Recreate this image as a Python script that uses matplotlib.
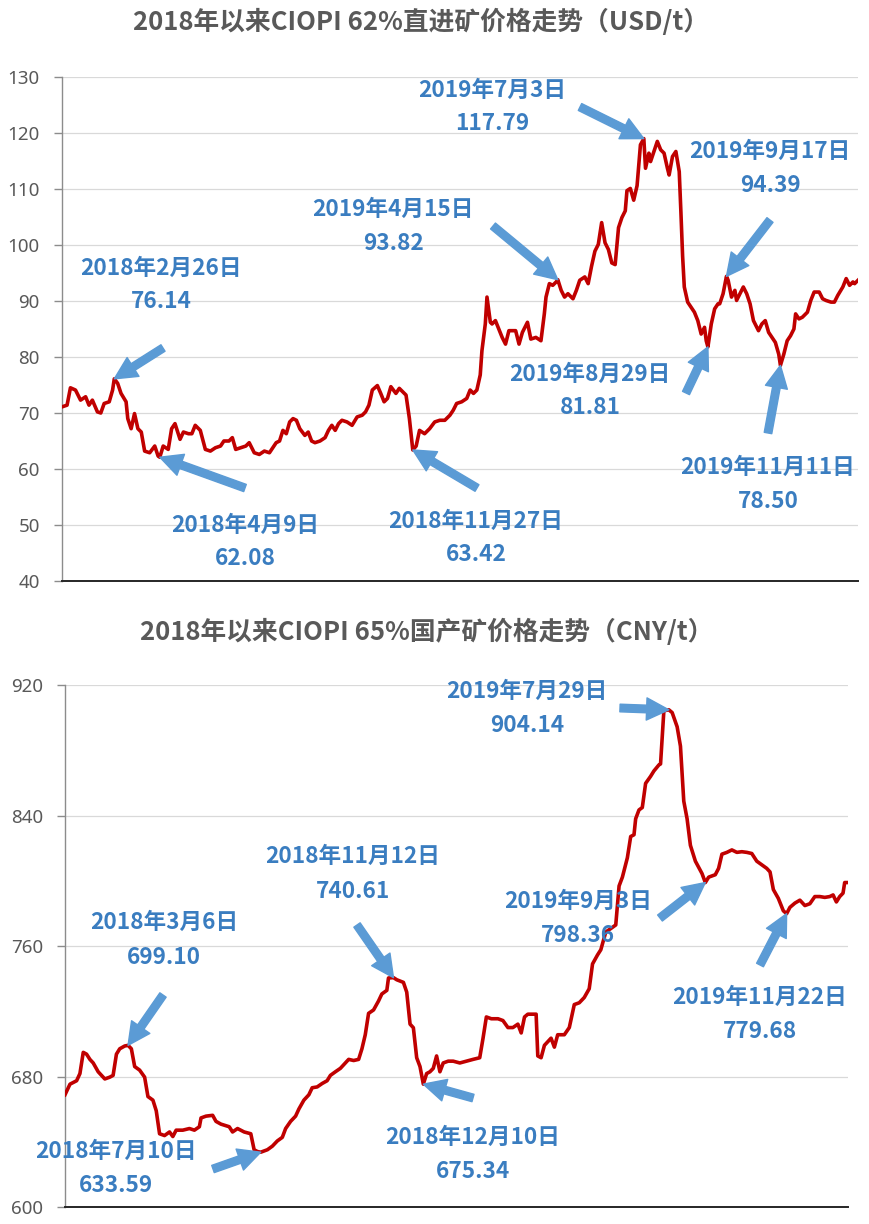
import matplotlib
matplotlib.use("Agg")
import matplotlib.pyplot as plt
import numpy as np

plt.rcParams['font.family'] = ['Noto Sans CJK SC', 'DejaVu Sans']

# ---------------- data: top panel (CIOPI 62%, USD/t) ----------------
top_day = [0,3,5,8,11,14,16,18,21,23,25,28,30,31,33,35,38,39,41,43,45,47,49,52,55,57,58,60,63,65,
           67,70,72,75,77,79,82,85,88,91,94,96,99,101,103,106,109,111,114,117,120,123,125,127,129,131,133,135,137,139,
           141,144,146,148,150,153,156,158,160,162,164,166,169,172,175,178,180,182,184,187,189,191,193,195,198,200,202,204,206,208,
           210,212,215,218,221,224,227,230,
           232,234,237,240,242,244,246,248,249,251,252,254,255,257,259,261,263,265,267,269,
           271,273,275,276,278,281,284,286,287,289,291,293,294,296,298,300,303,305,307,310,
           312,314,316,318,320,322,324,326,328,330,332,334,335,337,339,341,343,345,346,348,
           349,351,353,355,357,359,360,362,364,366,367,368,369,371,373,375,377,379,381,382,
           383,385,387,389,390,392,394,395,397,399,400,402,404,406,408,410,413,415,417,419,
           421,423,425,426,428,430,432,434,435,437,439,442,444,446,449,451,453,456,458,460,
           463,465,467,469,470,472]
top_val = [71.1,71.4,74.5,74.1,72.3,72.9,71.4,72.3,70.2,70.0,71.7,72.0,74.1,76.1,75.3,73.5,72.0,69.0,67.2,69.9,
           67.2,66.6,63.2,62.9,64.1,62.3,62.1,64.1,63.5,67.2,68.1,65.3,66.6,66.3,66.3,67.8,66.9,63.5,63.2,63.8,
           64.1,65.0,65.0,65.6,63.5,63.8,64.1,64.7,62.9,62.6,63.2,62.9,63.8,64.7,65.0,66.9,66.3,68.4,69.0,68.7,
           67.2,66.0,66.6,65.0,64.7,65.0,65.6,66.9,67.8,66.9,68.1,68.7,68.4,67.8,69.3,69.6,70.2,71.4,74.1,74.9,
           73.5,72.0,72.6,74.7,73.5,74.4,73.8,73.2,69.0,63.4,64.1,66.9,66.3,67.2,68.4,68.7,68.7,69.6,
           70.5,71.7,72.0,72.6,74.1,73.5,74.1,76.8,81.1,85.9,90.7,86.2,85.9,86.5,85.0,83.5,82.3,84.7,84.7,84.7,
           82.3,84.4,85.6,86.2,83.2,83.5,82.9,87.7,90.7,93.1,92.8,93.4,93.8,91.9,90.7,91.3,90.4,91.9,93.7,94.3,
           93.1,96.2,98.9,100.1,104.0,100.4,99.2,96.8,96.5,103.1,104.9,106.1,109.7,110.1,108.0,110.6,117.9,119.0,113.7,116.4,
           114.9,116.7,118.5,117.0,116.4,113.7,112.5,115.8,116.7,113.1,105.8,98.0,92.5,89.8,88.9,88.0,86.5,84.1,85.3,82.9,
           81.8,85.9,88.6,89.5,89.5,91.3,94.4,93.7,90.7,91.9,90.1,91.3,92.5,91.3,89.5,86.5,84.7,85.9,86.5,84.4,
           83.5,82.6,80.5,78.5,80.5,82.9,83.8,85.0,87.7,86.8,87.1,88.0,90.1,91.6,91.6,90.4,90.1,89.8,89.8,91.0,
           92.5,94.0,92.8,93.4,93.1,93.7]

# ---------------- data: bottom panel (CIOPI 65% domestic, CNY/t) ----------------
bot_day = [0,3,7,9,11,13,15,17,20,22,24,27,29,31,33,36,38,40,42,45,48,50,53,55,57,60,63,65,67,71,
           75,78,81,82,85,89,91,94,99,101,104,108,112,114,116,118,122,125,128,131,133,136,139,141,144,147,149,152,155,158,
           160,163,166,168,171,174,177,179,181,183,186,189,191,194,195,198,200,204,206,208,210,212,214,216,218,220,222,224,226,228,
           231,
           234,238,242,246,250,252,254,257,261,264,267,270,273,275,277,279,284,285,287,289,
           293,295,297,301,304,307,310,313,316,318,321,323,326,329,332,334,336,339,341,343,
           344,346,348,350,353,355,358,359,361,364,366,369,371,373,375,377,380,384,386,388,
           392,394,396,399,402,405,408,411,414,417,420,423,425,427,430,433,435,437,440,443,
           446,449,452,455,458,461,463,465,467,469,470,472]
bot_val = [668.8,675.3,677.4,681.8,694.8,693.7,690.5,688.3,682.9,680.7,678.5,679.6,680.7,693.7,697.0,698.7,699.1,697.0,686.1,683.9,
           679.6,667.7,665.5,659.0,644.9,643.8,646.0,643.2,647.1,647.1,648.1,647.1,649.2,654.6,655.7,656.2,652.5,650.8,649.2,646.0,
           648.1,646.0,644.9,635.1,634.0,633.6,635.1,637.3,640.5,642.7,648.1,652.5,655.7,660.1,665.5,668.8,673.1,673.6,675.7,677.4,
           680.7,682.9,685.0,687.2,690.5,689.8,690.5,697.0,705.6,718.7,720.8,726.3,730.6,732.8,740.4,740.6,739.3,737.7,731.7,712.1,
           709.9,691.5,686.1,675.3,681.8,682.9,685.0,692.6,682.9,688.3,689.4,
           689.4,688.3,689.4,690.5,691.5,703.5,716.5,715.4,715.4,714.3,710.0,710.0,712.1,706.7,716.5,718.2,718.2,692.6,691.5,699.1,
           703.5,698.0,705.6,705.6,710.0,724.1,725.2,728.4,733.8,749.0,754.5,757.7,768.6,770.7,772.9,796.8,802.2,814.1,827.1,828.2,
           838.0,843.4,844.9,859.7,864.0,867.3,871.0,871.6,904.2,904.8,903.1,894.4,882.5,848.8,838.0,821.7,812.0,804.4,798.9,802.2,
           803.7,807.6,816.3,817.4,818.9,817.4,817.8,817.4,816.7,812.0,809.8,807.6,805.4,794.6,789.2,781.6,779.8,783.7,786.3,788.1,
           784.8,785.9,790.3,790.3,789.8,790.3,791.3,787.0,790.3,792.4,798.9,798.9]

top_title = "2018年以来CIOPI 62%直进矿价格走势（USD/t）"
bot_title = "2018年以来CIOPI 65%国产矿价格走势（CNY/t）"
top_yticks = [40, 50, 60, 70, 80, 90, 100, 110, 120, 130]
bot_yticks = [600, 680, 760, 840, 920]

# annotations: (date label, value label, day index of marked point)
top_notes = [("2018年2月26日", "76.14", 31), ("2018年4月9日", "62.08", 58),
             ("2018年11月27日", "63.42", 208), ("2019年4月15日", "93.82", 294),
             ("2019年7月3日", "117.79", 345), ("2019年8月29日", "81.81", 383),
             ("2019年9月17日", "94.39", 394), ("2019年11月11日", "78.50", 426)]
bot_notes = [("2018年3月6日", "699.10", 38), ("2018年7月10日", "633.59", 118),
             ("2018年11月12日", "740.61", 198), ("2018年12月10日", "675.34", 216),
             ("2019年7月29日", "904.14", 364), ("2019年9月3日", "798.36", 386),
             ("2019年11月22日", "779.68", 435)]

# layout (reference pixel positions): text centre (x, y of date line) and arrow tail
top_layout = [((161, 268), (163, 348)), ((245, 525), (245, 488)), ((476, 521), (477, 488)),
              ((393, 209), (493, 226)), ((492, 90), (580, 107)), ((590, 374), (686, 393)),
              ((770, 151), (770, 220)), ((768, 467), (768, 433))]
bot_layout = [((164, 922), (163, 995)), ((116, 1151), (213, 1169)), ((353, 856), (357, 925)),
              ((473, 1137), (473, 1098)), ((527, 691), (620, 708)), ((578, 901), (660, 918)),
              ((760, 997), (760, 965))]

W, H = 869, 1224
fig = plt.figure(figsize=(W / 100, H / 100), dpi=100)
fig.patch.set_facecolor('white')

LINE = '#C00000'
BLUE_T = '#3A7DC0'
BLUE_A = '#5B9BD5'
GREY = '#595959'


def panel(box, days, vals, yticks, title, title_y, title_x, notes, layout, gap):
    left, top, right, bottom = box
    ax = fig.add_axes([left / W, 1 - bottom / H, (right - left) / W, (bottom - top) / H])
    ax.plot(days, vals, color=LINE, lw=2.6, solid_joinstyle='round', zorder=3)
    ax.set_xlim(min(days), max(days))
    ax.set_ylim(yticks[0], yticks[-1])
    ax.set_yticks(yticks)
    ax.set_xticks([])
    ax.grid(axis='y', color='#D9D9D9', lw=0.9)
    ax.set_axisbelow(True)
    for s in ('top', 'right'):
        ax.spines[s].set_visible(False)
    ax.spines['left'].set_color('#8C8C8C')
    ax.spines['left'].set_linewidth(1.0)
    ax.spines['bottom'].set_color('#262626')
    ax.spines['bottom'].set_linewidth(1.4)
    ax.tick_params(axis='y', colors='#8C8C8C', labelcolor=GREY, labelsize=13.5,
                   length=6, width=1.0, pad=10)
    for lab in ax.get_yticklabels():
        lab.set_family(['Noto Sans', 'DejaVu Sans'])
    fig.text(title_x / W, 1 - title_y / H, title, ha='center', va='center',
             fontsize=18.5, fontweight='heavy', color=GREY)
    for (dlab, vlab, d), ((tx, ty), (ax_, ay_)) in zip(notes, layout):
        i = days.index(d)
        ax.annotate('', xy=(days[i], vals[i]), xycoords='data',
                    xytext=(ax_ / W, 1 - ay_ / H), textcoords='figure fraction',
                    arrowprops=dict(arrowstyle='simple,head_length=1.6,head_width=1.6,tail_width=0.55',
                                    color=BLUE_A, shrinkA=0, shrinkB=0, mutation_scale=10),
                    zorder=4, annotation_clip=False)
        fig.text(tx / W, 1 - ty / H, dlab, ha='center', va='center', fontsize=16.3,
                 fontweight='bold', color=BLUE_T)
        fig.text(tx / W, 1 - (ty + gap) / H, vlab, ha='center', va='center', fontsize=16.3,
                 fontweight='bold', color=BLUE_T)
    return ax


panel((62, 77, 858, 581), top_day, top_val, top_yticks, top_title, 22, 421,
      top_notes, top_layout, 34)
panel((65, 685, 848, 1207), bot_day, bot_val, bot_yticks, bot_title, 632, 427,
      bot_notes, bot_layout, 35)

fig.savefig('out.png', dpi=100, facecolor='white')
